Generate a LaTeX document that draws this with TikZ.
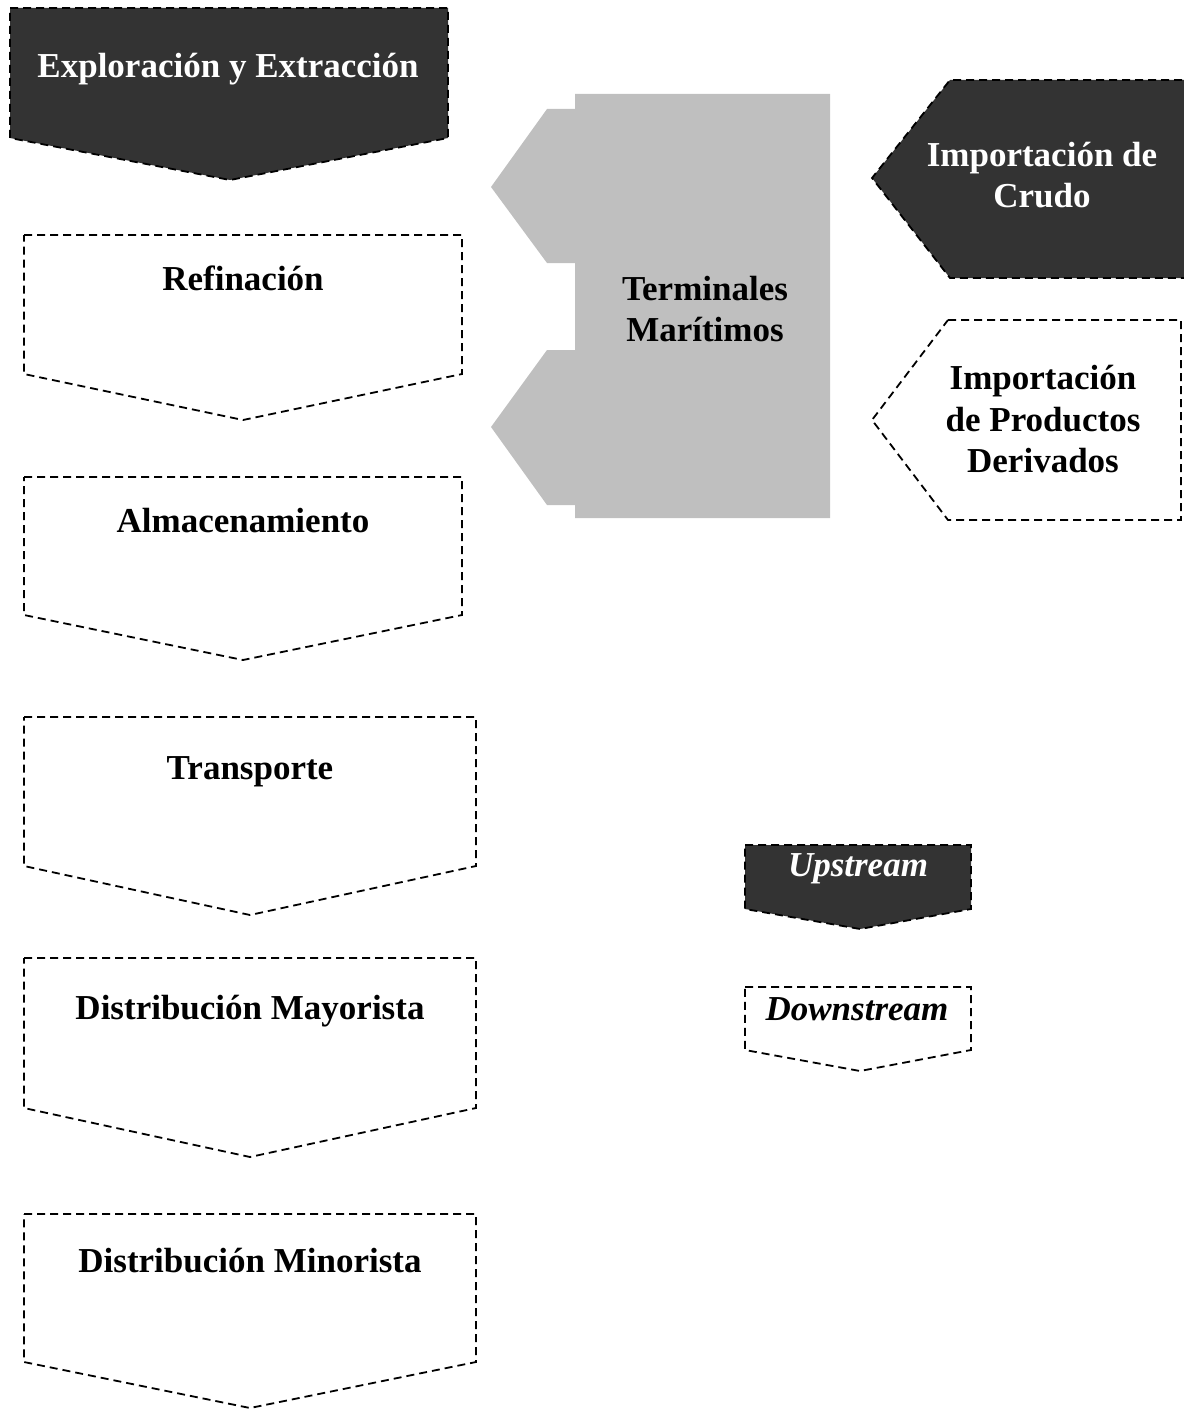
\documentclass[tikz,border=0pt]{standalone}
\usepackage{fontspec}
\setmainfont{Liberation Serif}
\definecolor{darkfill}{HTML}{333333}
\definecolor{grayfill}{HTML}{BFBFBF}
\tikzset{
  dashbox/.style={draw=black, line width=1.8pt, dash pattern=on 8pt off 5pt, line join=miter},
  darkbox/.style={dashbox, fill=darkfill},
  lightbox/.style={dashbox, fill=white},
  lbl/.style={anchor=base, inner sep=0pt, font=\fontsize{35}{41}\selectfont\bfseries},
  dlbl/.style={lbl, text=white},
  leglbl/.style={anchor=base, inner sep=0pt, font=\fontsize{35}{41}\selectfont\bfseries\itshape},
}
\begin{document}
\begin{tikzpicture}[x=1pt,y=-1pt]
\useasboundingbox (0,0) rectangle (1183,1410);
% Upstream chain
\draw[darkbox] (10,8) -- (448,8) -- (448,138) -- (230,180) -- (10,138) -- cycle;
\node[dlbl] (explo) at (228,78) {Exploración y Extracción};
\draw[lightbox] (24,235) -- (462,235) -- (462,374) -- (243,420) -- (24,374) -- cycle;
\node[lbl] (refi) at (243,290) {Refinación};
\draw[lightbox] (24,477) -- (462,477) -- (462,615) -- (243,660) -- (24,615) -- cycle;
\node[lbl] (alma) at (243,532) {Almacenamiento};
\draw[lightbox] (24,717) -- (476,717) -- (476,866) -- (250,915) -- (24,866) -- cycle;
\node[lbl] (trans) at (250,779) {Transporte};
\draw[lightbox] (24,958) -- (476,958) -- (476,1108) -- (250,1157) -- (24,1108) -- cycle;
\node[lbl] (mayor) at (250,1019) {Distribución Mayorista};
\draw[lightbox] (24,1214) -- (476,1214) -- (476,1362) -- (250,1408) -- (24,1362) -- cycle;
\node[lbl] (minor) at (250,1272) {Distribución Minorista};
% Terminales
\fill[grayfill] (575,94) -- (830,94) -- (830,518) -- (575,518) -- (575,505) -- (547,505)
  -- (491,427) -- (547,350) -- (575,350) -- (575,263) -- (547,263) -- (491,187)
  -- (547,109) -- (575,109) -- cycle;
\node[lbl] (term1) at (705,300) {Terminales};
\node[lbl] (term2) at (705,341) {Marítimos};
% Imports
\draw[darkbox] (1195,80) -- (950,80) -- (872,178) -- (950,278) -- (1195,278);
\node[dlbl] (crudo1) at (1042,166) {Importación de};
\node[dlbl] (crudo2) at (1042,207) {Crudo};
\draw[lightbox] (948,320) -- (1181,320) -- (1181,520) -- (948,520) -- (872,420) -- cycle;
\node[lbl] (prod1) at (1043,389) {Importación};
\node[lbl] (prod2) at (1043,431) {de Productos};
\node[lbl] (prod3) at (1043,472) {Derivados};
% Legend
\draw[darkbox] (745,845) -- (971,845) -- (971,909) -- (860,929) -- (745,909) -- cycle;
\node[leglbl, text=white] (up) at (858,876) {Upstream};
\draw[lightbox] (745,987) -- (971,987) -- (971,1050) -- (860,1071) -- (745,1050) -- cycle;
\node[leglbl] (down) at (857,1020) {Downstream};
\end{tikzpicture}
\end{document}
